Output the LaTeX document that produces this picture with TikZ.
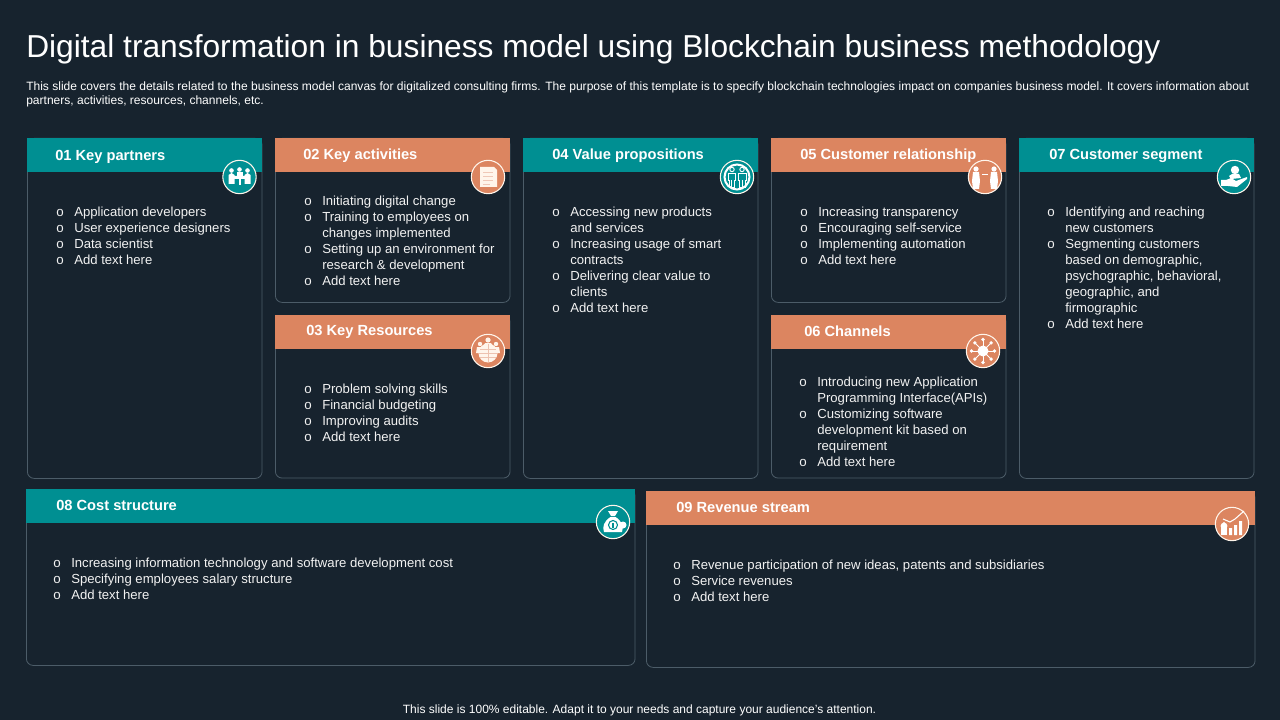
\documentclass[tikz,border=0pt]{standalone}
\usepackage{fontspec}
\setmainfont{Liberation Sans}
\definecolor{slidebg}{HTML}{17232E}
\definecolor{tealhead}{HTML}{008F92}
\definecolor{orangehead}{HTML}{DC8560}
\definecolor{panelline}{HTML}{4C5C68}
\newcommand{\bl}{\strut\makebox[13.5pt][l]{\raisebox{0.2pt}{\fontsize{10}{12}\selectfont o}}}
\newcommand{\nb}{\strut\hspace*{13.5pt}}
\tikzset{
  panel/.style={draw=panelline,line width=0.6pt,rounded corners=5pt,anchor=north west,inner sep=0pt},
  head/.style={anchor=north west,inner sep=0pt,minimum height=25.5pt},
  headtxt/.style={anchor=west,inner sep=0pt,text=white,font=\fontsize{11}{13}\selectfont\bfseries},
  listtxt/.style={anchor=north west,inner sep=0pt,align=left,text=white!95!black,font=\fontsize{9.85}{12}\selectfont},
  badge/.style={circle,draw=white!92!orange,line width=0.8pt,minimum size=25pt,inner sep=0pt},
  glyph/.style={fill=white,draw=none}
}
\begin{document}
\begin{tikzpicture}[x=0.75pt,y=-0.75pt]
\useasboundingbox[fill=slidebg] (0,0) rectangle (1280,720);

% title and intro
\node[anchor=west,inner sep=0pt,text=white,font=\fontsize{23.8}{28}\selectfont] (title) at (26,49.5) {Digital transformation in business model using Blockchain business methodology};
\node[anchor=north west,inner sep=0pt,align=left,text=white,font=\fontsize{9.03}{10.5}\selectfont] (intro) at (26,80) {\strut This slide covers the details related to the business model canvas for digitalized consulting firms.  The purpose of this template is to specify blockchain technologies impact on companies business model. It covers information about\\\strut partners, activities, resources, channels, etc.};

% panels
\node[panel,minimum width=176pt,minimum height=255pt] (partners) at (27,138) {};
\node[panel,minimum width=176pt,minimum height=123pt] (activities) at (275,138) {};
\node[panel,minimum width=176pt,minimum height=122pt] (resources) at (275,315) {};
\node[panel,minimum width=176pt,minimum height=255pt] (values) at (523,138) {};
\node[panel,minimum width=176pt,minimum height=123pt] (relation) at (771,138) {};
\node[panel,minimum width=176pt,minimum height=122pt] (channels) at (771,315) {};
\node[panel,minimum width=176pt,minimum height=255pt] (segment) at (1019,138) {};
\node[panel,minimum width=456.5pt,minimum height=132pt] (cost) at (26,489) {};
\node[panel,minimum width=456.5pt,minimum height=132pt] (revenue) at (646,491) {};

% header bars
\node[head,fill=tealhead,minimum width=176pt] (partnersbar) at (27,138) {};
\node[head,fill=orangehead,minimum width=176pt] (activitiesbar) at (275,138) {};
\node[head,fill=orangehead,minimum width=176pt] (resourcesbar) at (275,315) {};
\node[head,fill=tealhead,minimum width=176pt] (valuesbar) at (523,138) {};
\node[head,fill=orangehead,minimum width=176pt] (relationbar) at (771,138) {};
\node[head,fill=orangehead,minimum width=176pt] (channelsbar) at (771,315) {};
\node[head,fill=tealhead,minimum width=176pt] (segmentbar) at (1019,138) {};
\node[head,fill=tealhead,minimum width=456.5pt] (costbar) at (26,489) {};
\node[head,fill=orangehead,minimum width=456.5pt] (revenuebar) at (646,491) {};

% header labels
\node[headtxt] (partnerslab) at (55,156.5) {01 Key partners};
\node[headtxt] (activitieslab) at (303,155.5) {02 Key activities};
\node[headtxt] (resourceslab) at (306,331.5) {03 Key Resources};
\node[headtxt] (valueslab) at (552,155.5) {04 Value propositions};
\node[headtxt] (relationlab) at (800,155.5) {05 Customer relationship};
\node[headtxt] (channelslab) at (804,331) {06 Channels};
\node[headtxt] (segmentlab) at (1049,155.5) {07 Customer segment};
\node[headtxt] (costlab) at (56,505) {08 Cost structure};
\node[headtxt] (revenuelab) at (676,507) {09 Revenue stream};

% lists
\node[listtxt] (partnerslist) at (56,205) {\bl Application developers\\\bl User experience designers\\\bl Data scientist\\\bl Add text here};
\node[listtxt] (activitieslist) at (304,194) {\bl Initiating digital change\\\bl Training to employees on\\\nb changes implemented\\\bl Setting up an environment for\\\nb research \& development\\\bl Add text here};
\node[listtxt] (resourceslist) at (304,382) {\bl Problem solving skills\\\bl Financial budgeting\\\bl Improving audits\\\bl Add text here};
\node[listtxt] (valueslist) at (552,205) {\bl Accessing new products\\\nb and services\\\bl Increasing usage of smart\\\nb contracts\\\bl Delivering clear value to\\\nb clients\\\bl Add text here};
\node[listtxt] (relationlist) at (800,205) {\bl Increasing transparency\\\bl Encouraging self-service\\\bl Implementing automation\\\bl Add text here};
\node[listtxt] (channelslist) at (799,375) {\bl Introducing new Application\\\nb Programming Interface(APIs)\\\bl Customizing software\\\nb development kit based on\\\nb requirement\\\bl Add text here};
\node[listtxt] (segmentlist) at (1047,205) {\bl Identifying and reaching\\\nb new customers\\\bl Segmenting customers\\\nb based on demographic,\\\nb psychographic, behavioral,\\\nb geographic, and\\\nb firmographic\\\bl Add text here};
\node[listtxt] (costlist) at (53,556) {\bl Increasing information technology and software development cost\\\bl Specifying employees salary structure\\\bl Add text here};
\node[listtxt] (revenuelist) at (673,558) {\bl Revenue participation of new ideas, patents and subsidiaries\\\bl Service revenues\\\bl Add text here};

% badges
\node[badge,fill=tealhead] (partnersicon) at (239.5,177) {};
\node[badge,fill=orangehead] (activitiesicon) at (488,177) {};
\node[badge,fill=orangehead] (resourcesicon) at (488,351) {};
\node[badge,fill=tealhead] (valuesicon) at (737,177) {};
\node[badge,fill=orangehead] (relationicon) at (985,177) {};
\node[badge,fill=orangehead] (channelsicon) at (983,351) {};
\node[badge,fill=tealhead] (segmenticon) at (1234,177) {};
\node[badge,fill=tealhead] (costicon) at (613,522) {};
\node[badge,fill=orangehead] (revenueicon) at (1232,524) {};

% meeting table
\begin{scope}[shift={(partnersicon.center)}]
\fill[glyph] (-8,-6.5) circle (2.3) (0,-7.5) circle (2.3) (8,-6.5) circle (2.3);
\fill[glyph] (-11,7) -- (-11,-2) -- (-8,-4) -- (-5,-2) -- (-5,-1) -- (5,-1) -- (5,-2) -- (8,-4) -- (11,-2) -- (11,7) -- (5,7) -- (5,2) -- (-5,2) -- (-5,7) -- cycle;
\fill[glyph] (-3,-4.5) rectangle (3,-1);
\fill[glyph] (-1,2) rectangle (1,8);
\end{scope}
% document stack
\begin{scope}[shift={(activitiesicon.center)}]
\fill[white!92!orange] (-8,-10) -- (6,-10) -- (9,-7) -- (9,10) -- (-8,10) -- cycle;
\draw[orangehead!45,line width=0.5pt] (-5,-5) -- (5,-5) (-5,-1) -- (5,-1) (-5,3) -- (5,3) (-5,7) -- (2,7);
\end{scope}
% people on a globe
\begin{scope}[shift={(resourcesicon.center)}]
\fill[white!92!orange] (0,-11) circle (2.6) (-8,-7) circle (2.2) (8,-7) circle (2.2);
\fill[white!92!orange] (-12,2) -- (-11,-4) -- (-5,-4) -- (-3,-8) -- (3,-8) -- (5,-4) -- (11,-4) -- (12,2) -- cycle;
\fill[white!92!orange] (0,2) circle (9.5);
\draw[orangehead!50,line width=0.3pt] (-9,2) -- (9,2) (-8,-2) -- (8,-2) (-8,6) -- (8,6) (0,-7) -- (0,11);
\end{scope}
% two figures in a ring
\begin{scope}[shift={(valuesicon.center)}]
\draw[white,line width=1.5pt] (0,0) circle (12.5);
\draw[white,line width=0.7pt] (-5,-7.5) circle (2.2) (5,-7.5) circle (2.2);
\draw[white,line width=0.7pt] (-9,3) -- (-9,-4) -- (-1.5,-4) -- (-1.5,3) -- (-2.5,3) -- (-2.5,10) -- (-8,10) -- (-8,3) -- cycle (-5.2,3) -- (-5.2,10);
\draw[white,line width=0.7pt] (9,3) -- (9,-4) -- (1.5,-4) -- (1.5,3) -- (2.5,3) -- (2.5,10) -- (8,10) -- (8,3) -- cycle (5.2,3) -- (5.2,10);
\end{scope}
% customer and agent
\begin{scope}[shift={(relationicon.center)}]
\fill[glyph] (-9,-8) circle (2.6) (9,-8) circle (2.6);
\fill[glyph] (-13,4) -- (-12,-5) -- (-6,-5) -- (-5,4) -- (-6,12) -- (-12,12) -- cycle;
\fill[glyph] (13,4) -- (12,-5) -- (6,-5) -- (5,4) -- (6,12) -- (12,12) -- cycle;
\draw[white,line width=0.6pt] (-3,-3) -- (3,-3);
\end{scope}
% hub with rays
\begin{scope}[shift={(channelsicon.center)}]
\fill[glyph] (0,0) circle (5.5);
\foreach \ang in {0,45,...,315}{
  \draw[white,line width=0.6pt] (\ang:5) -- (\ang:11);
  \fill[glyph] (\ang:11.5) circle (1.8);
}
\end{scope}
% person over a hand
\begin{scope}[shift={(segmenticon.center)}]
\fill[glyph] (1,-7) circle (4.2);
\fill[glyph] (-5,-1) -- (-2,-3) -- (5,-3) -- (7,1) -- (-3,2) -- cycle;
\fill[glyph] (-13,3) -- (-8,3) -- (-3,1) -- (2,4) -- (13,0) -- (13,2) -- (3,10) -- (-6,9) -- (-13,9) -- cycle;
\end{scope}
% money bag
\begin{scope}[shift={(costicon.center)}]
\fill[glyph] (-5,-11) -- (5,-11) -- (2,-6) -- (-2,-6) -- cycle;
\fill[glyph] (-2.5,-5) .. controls (-9,-1) and (-11,5) .. (-9,10) -- (9,10) .. controls (11,5) and (9,-1) .. (2.5,-5) -- cycle;
\fill[glyph] (10,3) circle (3.5);
\draw[tealhead,line width=0.8pt] (0,3) circle (4.5);
\fill[tealhead] (-1,0.5) rectangle (1,5.5);
\end{scope}
% bars with rising arrow
\begin{scope}[shift={(revenueicon.center)}]
\fill[glyph] (-8,2) circle (3.4) (-8,-1) circle (1.2);
\fill[glyph] (-11,3) rectangle (-5,11);
\fill[glyph] (-3,4) rectangle (0,11) (2,1) rectangle (5,11) (7,-3) rectangle (10,11);
\draw[white,line width=0.8pt] (-9,-5) -- (-2,-2) -- (3,-5) -- (12,-13);
\end{scope}

% footer
\node[inner sep=0pt,text=white,font=\fontsize{9}{11}\selectfont] (footer) at (639.5,710) {This slide is 100\% editable. Adapt it to your needs and capture your audience's attention.};
\end{tikzpicture}
\end{document}
